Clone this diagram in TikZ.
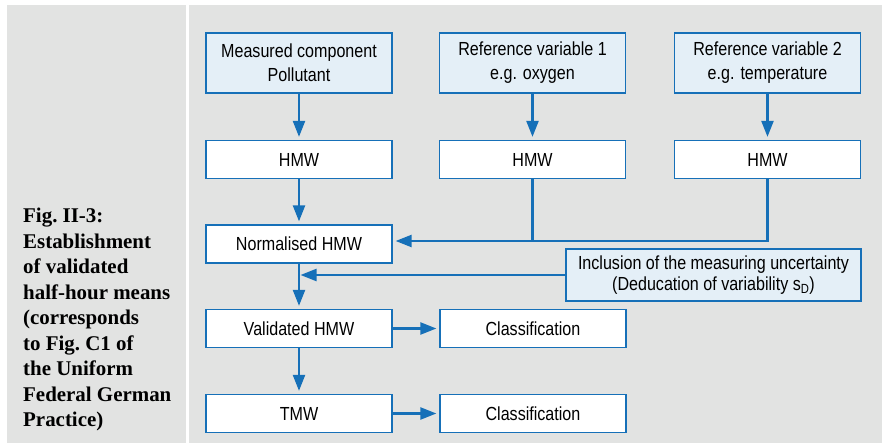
\documentclass[tikz,border=0pt]{standalone}
\usepackage{fontspec}
\setmainfont{Liberation Sans}[FakeStretch=0.85]
\newfontfamily\figfont{Liberation Serif}
\usetikzlibrary{positioning, arrows.meta}

\definecolor{panelgray}{RGB}{226,227,226}
\definecolor{lineblue}{RGB}{22,112,184}
\definecolor{boxblue}{RGB}{228,239,247}

\begin{document}
\begin{tikzpicture}[
    x=1bp, y=-1bp,
    >={Triangle[length=16bp, width=12bp]},
    font=\fontsize{19}{24}\selectfont,
    box/.style={draw=lineblue, line width=1.3bp, rectangle, minimum width=186bp, minimum height=38bp, fill=white, align=center, inner sep=0pt},
    source/.style={box, fill=boxblue, minimum height=60bp},
    link/.style={draw=lineblue, line width=2.3bp},
    flow/.style={link, ->, shorten >=3bp}
]

    % Page and the two grey panels
    \useasboundingbox (0,0) rectangle (882,443);
    \fill[white] (0,0) rectangle (882,443);
    \fill[panelgray] (7,5) rectangle (185.5,443);
    \fill[panelgray] (189,5) rectangle (882,443);

    % Caption (base is the last line)
    \node[anchor=base west, align=left, inner sep=0pt,
          font=\figfont\bfseries\fontsize{21}{25.6}\selectfont] (caption) at (23,426.7)
        {Fig.~II-3:\\Establishment\\of validated\\half-hour means\\(corresponds\\to Fig.~C1 of\\the Uniform\\Federal German\\Practice)};

    % Input quantities
    \node[source] (meas) at (299,63) {Measured component\\Pollutant};
    \node[source] (ref1) at (532.5,63) {Reference variable 1\\e.g. oxygen};
    \node[source] (ref2) at (767.5,63) {Reference variable 2\\e.g. temperature};

    % Half-hour means
    \node[box] (hmw1) at (299,159.5) {HMW};
    \node[box] (hmw2) at (532.5,159.5) {HMW};
    \node[box] (hmw3) at (767.5,159.5) {HMW};

    % Main chain
    \node[box] (norm) at (299,244) {Normalised HMW};
    \node[box] (valid) at (299,328.5) {Validated HMW};
    \node[box] (tmw) at (299,413.5) {TMW};
    \node[box] (class1) at (533,328.5) {Classification};
    \node[box] (class2) at (533,413.5) {Classification};

    % Measuring uncertainty
    \node[source, minimum width=295bp, minimum height=52bp, font=\fontsize{19}{21.5}\selectfont] (incl) at (713.5,275)
        {Inclusion of the measuring uncertainty\\(Deducation of variability s\textsubscript{D})};

    % Connections
    \draw[flow] (meas.south) -- (hmw1.north);
    \draw[flow] (ref1.south) -- (hmw2.north);
    \draw[flow] (ref2.south) -- (hmw3.north);
    \draw[flow] (hmw1.south) -- (norm.north);
    \draw[flow] (norm.south) -- (valid.north);
    \draw[flow] (valid.south) -- (tmw.north);
    \draw[flow] (valid.east) -- (class1.west);
    \draw[flow] (tmw.east) -- (class2.west);

    % Reference variables join before normalising
    \coordinate (merge) at (532.5,241);
    \draw[link] (hmw3.south) |- (merge);
    \draw[flow] (hmw2.south) -- (merge) -- (merge -| norm.east);

    % Uncertainty fed into the chain
    \draw[flow, shorten >=1.5bp] (incl.west) -- (incl.west -| norm.south);

\end{tikzpicture}
\end{document}
